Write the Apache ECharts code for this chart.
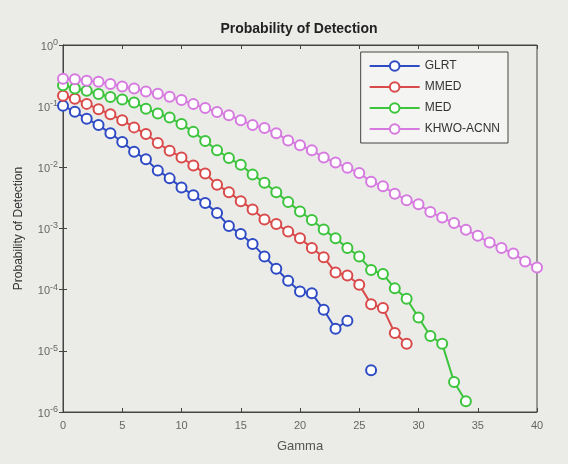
<!DOCTYPE html>
<html>
<head>
<meta charset="utf-8">
<script src="https://cdn.jsdelivr.net/npm/echarts@6/dist/echarts.min.js"></script>
<style>
  html, body { margin: 0; padding: 0; background: #e8e8e5; }
  #main { width: 568px; height: 464px; }
</style>
</head>
<body>
<div id="main"></div>
<script>
// gamma values along x
var gamma = [0,1,2,3,4,5,6,7,8,9,10,11,12,13,14,15,16,17,18,19,20,
             21,22,23,24,25,26,27,28,29,30,31,32,33,34,35,36,37,38,39,40];

// probability of detection (null = not drawn)
var glrt = [0.102,0.081,0.062,0.049,0.036,0.026,0.018,0.0135,0.0089,0.0066,0.0047,
            0.0035,0.0026,0.0018,0.0011,8.1e-4,5.6e-4,3.5e-4,2.2e-4,1.4e-4,9.3e-5,
            8.7e-5,4.7e-5,2.3e-5,3.1e-5,null,4.8e-6];
var mmed = [0.148,0.132,0.109,0.089,0.074,0.059,0.045,0.035,0.025,0.0187,0.0145,
            0.0107,0.0079,0.0052,0.0039,0.0028,0.00205,0.0014,0.00118,8.9e-4,6.9e-4,
            4.8e-4,3.4e-4,1.9e-4,1.7e-4,1.2e-4,5.8e-5,5.0e-5,1.95e-5,1.3e-5];
var med = [0.219,0.194,0.178,0.158,0.141,0.129,0.115,0.091,0.076,0.065,0.051,
           0.038,0.027,0.019,0.0142,0.011,0.0076,0.0056,0.0039,0.0027,0.0019,
           0.00138,9.6e-4,6.9e-4,4.8e-4,3.5e-4,2.1e-4,1.8e-4,1.05e-4,7.1e-5,3.5e-5,
           1.75e-5,1.3e-5,3.1e-6,1.5e-6];
var khwo = [0.28,0.275,0.26,0.25,0.23,0.21,0.195,0.174,0.159,0.142,0.126,
            0.108,0.093,0.080,0.071,0.059,0.049,0.044,0.036,0.0275,0.023,
            0.019,0.0145,0.012,0.0098,0.0081,0.0058,0.0049,0.0037,0.0029,0.0025,
            0.00186,0.00151,0.00123,9.5e-4,7.6e-4,5.9e-4,4.8e-4,3.9e-4,2.9e-4,2.3e-4];

var names = ['GLRT', 'MMED', 'MED', 'KHWO-ACNN'];
var colors = ['#2f4bc4', '#d94a4a', '#3cc43c', '#d67ae0'];
var values = [glrt, mmed, med, khwo];

function pairs(arr) {
    return arr.map(function (v, i) { return [gamma[i], v == null ? '-' : v]; });
}

var series = names.map(function (n, k) {
    return {
        name: n,
        type: 'line',
        data: pairs(values[k]),
        symbol: 'emptyCircle',
        symbolSize: 10,
        connectNulls: false,
        lineStyle: { color: colors[k], width: 2 },
        itemStyle: { color: colors[k], borderColor: colors[k], borderWidth: 2 },
        z: 2 + k
    };
});

var tickStyle = { inside: true, length: 4, lineStyle: { color: '#444' } };
var font = 'Liberation Sans';

var option = {
    backgroundColor: '#ebebe8',
    animation: false,
    title: {
        text: 'Probability of Detection',
        left: 294, top: 17, textAlign: 'center',
        textStyle: { fontFamily: font, fontSize: 14, fontWeight: 'bold', color: '#222' }
    },
    legend: {
        orient: 'vertical',
        right: 60, top: 52,
        itemWidth: 50, itemHeight: 12, itemGap: 9,
        padding: [8, 8, 8, 8],
        backgroundColor: '#f4f4f2',
        borderColor: '#444', borderWidth: 1,
        textStyle: { fontFamily: font, fontSize: 12, color: '#333' },
        data: names
    },
    grid: {
        left: 63, right: 31, top: 45, bottom: 52,
        show: true, borderColor: '#444', borderWidth: 1, backgroundColor: 'transparent'
    },
    xAxis: [{
        type: 'value', min: 0, max: 40, interval: 5,
        name: 'Gamma', nameLocation: 'middle', nameGap: 28,
        nameTextStyle: { fontFamily: font, fontSize: 13, color: '#555' },
        axisLine: { lineStyle: { color: '#444' } },
        axisTick: tickStyle,
        axisLabel: { fontFamily: font, fontSize: 11, color: '#666', margin: 8 },
        splitLine: { show: false }
    }, {
        type: 'value', position: 'top', min: 0, max: 40, interval: 5,
        axisLine: { lineStyle: { color: '#444' } },
        axisTick: tickStyle, axisLabel: { show: false }, splitLine: { show: false }
    }],
    yAxis: [{
        type: 'log', logBase: 10, min: 1e-6, max: 1,
        name: 'Probability of Detection', nameLocation: 'middle', nameGap: 38,
        nameTextStyle: { fontFamily: font, fontSize: 12, color: '#333' },
        axisLine: { lineStyle: { color: '#444' } },
        axisTick: tickStyle,
        axisLabel: {
            margin: 5,
            formatter: function (v) {
                var e = Math.round(Math.log10(v));
                return '{b|10}{s|' + e + '}';
            },
            rich: {
                b: { fontFamily: font, fontSize: 11, color: '#666', lineHeight: 14, verticalAlign: 'bottom' },
                s: { fontFamily: font, fontSize: 9, color: '#666', lineHeight: 14, verticalAlign: 'top' }
            }
        },
        splitLine: { show: false }
    }, {
        type: 'log', logBase: 10, min: 1e-6, max: 1, position: 'right',
        axisLine: { lineStyle: { color: '#444' } },
        axisTick: tickStyle, axisLabel: { show: false }, splitLine: { show: false }
    }],
    series: series
};

var myChart = echarts.init(document.getElementById('main'));
myChart.setOption(option);
</script>
</body>
</html>
